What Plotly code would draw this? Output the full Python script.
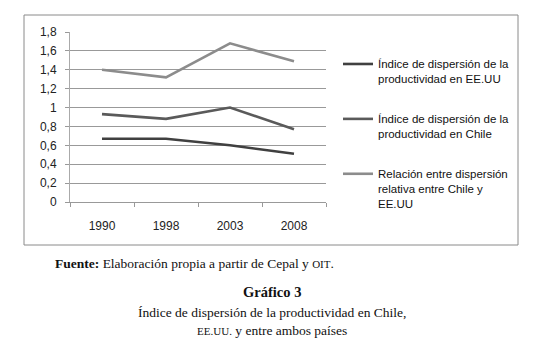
import plotly.graph_objects as go

years = ["1990", "1998", "2003", "2008"]
eeuu = [0.67, 0.67, 0.60, 0.51]
chile = [0.93, 0.88, 1.00, 0.77]
ratio = [1.40, 1.32, 1.68, 1.49]

y_tickvals = [0, 0.2, 0.4, 0.6, 0.8, 1.0, 1.2, 1.4, 1.6, 1.8]
y_ticktext = ["0", "0,2", "0,4", "0,6", "0,8", "1", "1,2", "1,4", "1,6", "1,8"]

names = [
    "Índice de dispersión de la<br>productividad en EE.UU",
    "Índice de dispersión de la<br>productividad en Chile",
    "Relación entre dispersión<br>relativa entre Chile y<br>EE.UU",
]
colors = ["#404040", "#5a5a5a", "#8c8c8c"]
series = [eeuu, chile, ratio]

W, H = 543, 360
OFF = 8  # page body margin offset
L, R, T, B = 70 - OFF, 326 - OFF, 32 - OFF, 202 - OFF

fig = go.Figure()
for i, (n, s, c) in enumerate(zip(names, series, colors)):
    fig.add_trace(go.Scatter(x=years, y=s, mode="lines", name=n,
                             line=dict(color=c, width=2.6),
                             legendgroup=f"g{i}"))

pw, ph = R - L, B - T
def px(x):
    return (x - OFF - L) / pw
def py(y):
    return (B - (y - OFF)) / ph

fig.update_layout(
    width=W, height=H,
    margin=dict(l=L, r=W - R, t=T, b=H - B, pad=0),
    paper_bgcolor="white", plot_bgcolor="white",
    font=dict(family="Liberation Sans, Arial, sans-serif", size=12, color="#222"),
    showlegend=True,
    legend=dict(x=px(338), y=py(50), xanchor="left", yanchor="top",
                bgcolor="rgba(0,0,0,0)", itemwidth=30, valign="top",
                tracegroupgap=22, traceorder="grouped",
                font=dict(size=11.5, color="#111")),
    xaxis=dict(type="category", showgrid=False, showline=True, linecolor="#999",
               linewidth=1, ticks="outside", ticklen=4, tickcolor="#999",
               tickson="boundaries", tickfont=dict(size=12, color="#222"),
               ticklabelstandoff=13, range=[-0.5, 3.5], fixedrange=True),
    yaxis=dict(range=[0, 1.8], tickvals=y_tickvals, ticktext=y_ticktext,
               showgrid=True, gridcolor="#999", gridwidth=1, showline=True,
               linecolor="#aaa", linewidth=1, ticks="outside", ticklen=4,
               tickcolor="#999", zeroline=False, tickfont=dict(size=12, color="#222"),
               ticklabelstandoff=6, fixedrange=True),
)

fig.add_shape(type="rect", xref="paper", yref="paper",
              x0=px(24), x1=px(518), y0=py(245), y1=py(15),
              line=dict(color="#8a8a8a", width=1), layer="below")

serif = "Liberation Serif, Times New Roman, serif"
sc = "<span style='font-size:11px'>{}</span>"
fig.add_annotation(xref="paper", yref="paper", x=px(53), y=py(263), xanchor="left",
                   yanchor="middle", showarrow=False,
                   text="<b>Fuente:</b> Elaboración propia a partir de Cepal y " + sc.format("OIT") + ".",
                   font=dict(family=serif, size=13.5, color="#111"))
fig.add_annotation(xref="paper", yref="paper", x=px(272), y=py(292), xanchor="center",
                   yanchor="middle", showarrow=False, text="<b>Gráfico 3</b>",
                   font=dict(family=serif, size=14.5, color="#111"))
fig.add_annotation(xref="paper", yref="paper", x=px(272), y=py(321), xanchor="center",
                   yanchor="middle", showarrow=False,
                   text="Índice de dispersión de la productividad en Chile,<br>"
                        + sc.format("EE.UU.") + " y entre ambos países",
                   font=dict(family=serif, size=13.5, color="#111"))

fig.write_html("out.html")
